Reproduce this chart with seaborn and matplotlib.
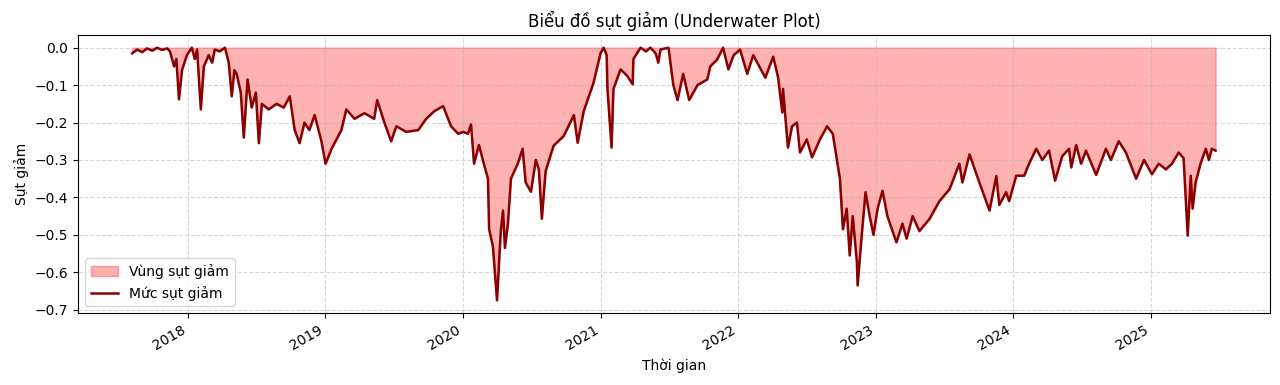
# -*- coding: utf-8 -*-
"""
Underwater plot (drawdown) - values read off the reference picture
"""

import pandas as pd
import numpy as np
import matplotlib
matplotlib.use('Agg')
import matplotlib.pyplot as plt
import seaborn as sns


#%% DATA (approximate)
dates = [
    '2017-08-07', '2017-08-20', '2017-09-02', '2017-09-15', '2017-09-29', '2017-10-12',
    '2017-10-25', '2017-11-08', '2017-11-15', '2017-11-26', '2017-12-02', '2017-12-09',
    '2017-12-17', '2017-12-30', '2018-01-12', '2018-01-20', '2018-01-26', '2018-02-05',
    '2018-02-13', '2018-02-26', '2018-03-07', '2018-03-14', '2018-03-27', '2018-04-10',
    '2018-04-20', '2018-04-28', '2018-05-05', '2018-05-11', '2018-05-22', '2018-05-30',
    '2018-06-09', '2018-06-20', '2018-07-01', '2018-07-09', '2018-07-17', '2018-08-04',
    '2018-08-25', '2018-09-13', '2018-09-29', '2018-10-12', '2018-10-25', '2018-11-07',
    '2018-11-20', '2018-12-04', '2018-12-22', '2019-01-02', '2019-01-18', '2019-02-13',
    '2019-02-26', '2019-03-20', '2019-04-15', '2019-05-11', '2019-05-19', '2019-06-07',
    '2019-06-25', '2019-07-09', '2019-08-04', '2019-09-05', '2019-09-26', '2019-10-17',
    '2019-11-10', '2019-12-01', '2019-12-20', '2020-01-02', '2020-01-15', '2020-01-23',
    '2020-01-31', '2020-02-13', '2020-02-26', '2020-03-08', '2020-03-11', '2020-03-21',
    '2020-04-01', '2020-04-11', '2020-04-17', '2020-04-22', '2020-04-30', '2020-05-08',
    '2020-05-26', '2020-06-08', '2020-06-16', '2020-06-30', '2020-07-13', '2020-07-21',
    '2020-07-29', '2020-08-08', '2020-08-29', '2020-09-25', '2020-10-22', '2020-11-01',
    '2020-11-17', '2020-12-13', '2021-01-01', '2021-01-09', '2021-01-17', '2021-01-19',
    '2021-01-30', '2021-02-04', '2021-02-23', '2021-03-13', '2021-03-27', '2021-03-29',
    '2021-04-17', '2021-05-01', '2021-05-13', '2021-05-27', '2021-06-03', '2021-06-09',
    '2021-06-30', '2021-07-13', '2021-07-24', '2021-08-08', '2021-08-24', '2021-09-15',
    '2021-10-11', '2021-10-19', '2021-11-06', '2021-11-22', '2021-12-06', '2021-12-20',
    '2022-01-06', '2022-01-25', '2022-02-10', '2022-03-14', '2022-04-04', '2022-04-17',
    '2022-04-28', '2022-04-30', '2022-05-13', '2022-05-24', '2022-06-06', '2022-06-14',
    '2022-07-02', '2022-07-16', '2022-08-06', '2022-08-25', '2022-09-09', '2022-09-28',
    '2022-10-06', '2022-10-16', '2022-10-24', '2022-11-01', '2022-11-12', '2022-11-14',
    '2022-11-25', '2022-12-05', '2022-12-16', '2022-12-26', '2023-01-06', '2023-01-19',
    '2023-02-01', '2023-02-25', '2023-03-13', '2023-03-24', '2023-04-09', '2023-04-27',
    '2023-05-24', '2023-06-19', '2023-07-16', '2023-08-11', '2023-08-19', '2023-09-07',
    '2023-10-03', '2023-10-30', '2023-11-17', '2023-11-25', '2023-12-13', '2023-12-21',
    '2024-01-09', '2024-01-30', '2024-02-12', '2024-03-02', '2024-03-18', '2024-04-05',
    '2024-04-21', '2024-05-10', '2024-05-28', '2024-06-03', '2024-06-16', '2024-06-29',
    '2024-07-12', '2024-08-08', '2024-09-03', '2024-09-16', '2024-10-07', '2024-10-26',
    '2024-11-22', '2024-12-13', '2025-01-03', '2025-01-21', '2025-02-09', '2025-02-25',
    '2025-03-15', '2025-03-28', '2025-04-03', '2025-04-08', '2025-04-16', '2025-04-21',
    '2025-04-29', '2025-05-12', '2025-05-26', '2025-06-03', '2025-06-11', '2025-06-21',
]

drawdown = [
    -0.015, -0.005, -0.012, -0.002, -0.008, 0.0,
    -0.006, -0.002, -0.010, -0.050, -0.030, -0.138,
    -0.060, -0.020, 0.0, -0.030, -0.005, -0.165,
    -0.050, -0.020, -0.040, -0.005, -0.010, 0.0,
    -0.040, -0.130, -0.060, -0.070, -0.120, -0.240,
    -0.085, -0.160, -0.120, -0.255, -0.150, -0.165,
    -0.150, -0.160, -0.130, -0.220, -0.255, -0.200,
    -0.220, -0.180, -0.250, -0.310, -0.270, -0.220,
    -0.165, -0.190, -0.175, -0.190, -0.140, -0.200,
    -0.250, -0.210, -0.225, -0.220, -0.190, -0.170,
    -0.156, -0.210, -0.230, -0.225, -0.230, -0.205,
    -0.310, -0.260, -0.310, -0.350, -0.485, -0.530,
    -0.675, -0.490, -0.435, -0.535, -0.470, -0.350,
    -0.310, -0.270, -0.360, -0.385, -0.300, -0.325,
    -0.457, -0.330, -0.262, -0.236, -0.180, -0.254,
    -0.170, -0.094, -0.014, 0.0, -0.020, -0.110,
    -0.267, -0.110, -0.058, -0.076, -0.098, -0.030,
    0.0, -0.010, 0.0, -0.015, -0.040, -0.005,
    0.0, -0.100, -0.140, -0.070, -0.140, -0.100,
    -0.085, -0.050, -0.032, 0.0, -0.058, -0.020,
    -0.005, -0.070, -0.020, -0.080, -0.024, -0.080,
    -0.173, -0.110, -0.267, -0.210, -0.200, -0.280,
    -0.245, -0.293, -0.245, -0.210, -0.230, -0.350,
    -0.485, -0.430, -0.555, -0.450, -0.572, -0.635,
    -0.500, -0.386, -0.450, -0.500, -0.430, -0.382,
    -0.450, -0.520, -0.470, -0.510, -0.450, -0.490,
    -0.457, -0.410, -0.378, -0.310, -0.360, -0.285,
    -0.360, -0.435, -0.343, -0.420, -0.386, -0.410,
    -0.342, -0.342, -0.310, -0.270, -0.300, -0.275,
    -0.355, -0.290, -0.270, -0.320, -0.260, -0.310,
    -0.275, -0.340, -0.270, -0.300, -0.250, -0.280,
    -0.350, -0.300, -0.338, -0.310, -0.325, -0.310,
    -0.280, -0.295, -0.410, -0.502, -0.342, -0.430,
    -0.360, -0.310, -0.270, -0.300, -0.270, -0.275,
]

df = pd.DataFrame({'Date': pd.to_datetime(dates), 'Drawdown': drawdown})


#%% PLOT
fig, ax = plt.subplots(figsize=(12.8, 3.85), dpi=100)

ax.fill_between(df.Date, df.Drawdown, 0, color='red', alpha=0.3, label='Vùng sụt giảm')
sns.lineplot(data=df, x='Date', y='Drawdown', color='darkred', linewidth=1.8,
             label='Mức sụt giảm', ax=ax)

ax.set_title('Biểu đồ sụt giảm (Underwater Plot)')
ax.set_xlabel('Thời gian')
ax.set_ylabel('Sụt giảm')
ax.grid(True, linestyle='--', alpha=0.5)
ax.legend(loc='lower left')
fig.autofmt_xdate()

fig.subplots_adjust(left=0.061, right=0.992, top=0.909, bottom=0.187)
plt.savefig('out.png', dpi=100)
